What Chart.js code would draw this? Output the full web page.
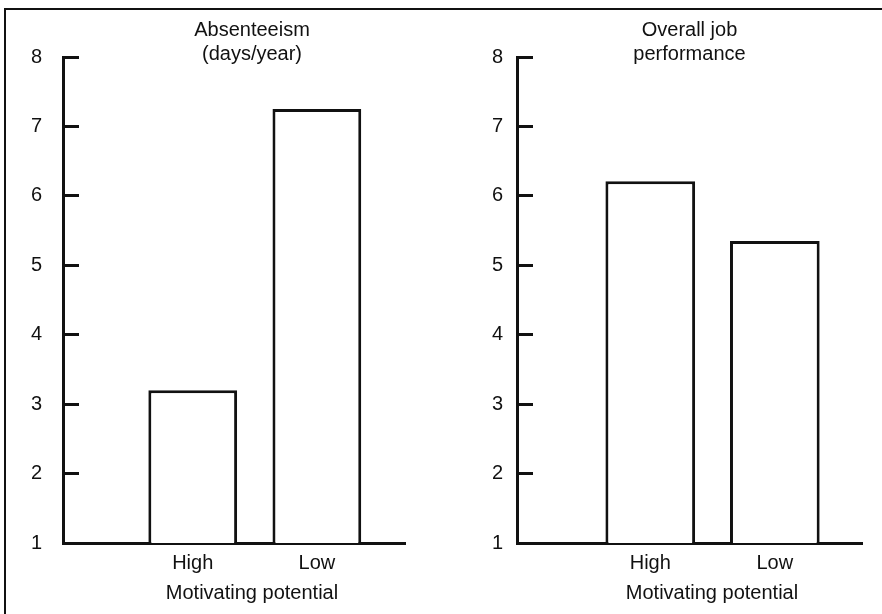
<!DOCTYPE html>
<html><head><meta charset="utf-8">
<script src="https://cdn.jsdelivr.net/npm/chart.js@4"></script>
<style>
html,body{margin:0;padding:0;background:#fff;overflow:hidden;width:882px;height:614px;}
#frame{position:absolute;left:4px;top:8px;width:900px;height:700px;border-top:2px solid #111;border-left:2px solid #111;}
#c1{position:absolute;left:10px;top:0;width:484px;height:614px;}
#c2{position:absolute;left:480px;top:0;width:464px;height:614px;}
</style></head><body>
<div id="frame"></div>
<canvas id="c1" width="484" height="614"></canvas>
<canvas id="c2" width="464" height="614"></canvas>
<script>
const categories = ['High', 'Low'];
const absenteeism = [3.2, 7.25];
const performance = [6.21, 5.35];
const yTicks = [1, 2, 3, 4, 5, 6, 7, 8];
const titleLeft = ['Absenteeism', '(days/year)'];
const titleRight = ['Overall job', 'performance'];
const xTitle = 'Motivating potential';

Chart.defaults.font.family = '"Liberation Sans", Arial, Helvetica, sans-serif';
const INK = '#111';
const F = {size: 20, weight: 'normal', lineHeight: 1.2};

function makeChart(id, values, titleLines, o) {
  const pts = categories.map((c, i) => ({x: i + 1, y: values[i]}));
  return new Chart(document.getElementById(id), {
    type: 'bar',
    data: {datasets: [{data: pts, backgroundColor: '#fff', borderColor: INK, borderWidth: 3,
      barPercentage: o.bar, categoryPercentage: 1}]},
    options: {
      responsive: false, animation: false,
      layout: {padding: 0},
      plugins: {
        legend: {display: false}, tooltip: {enabled: false},
        title: {display: true, text: titleLines, color: INK, font: F,
          padding: {top: 18, bottom: -9}, fullSize: o.titleFull},
        subtitle: {display: true, position: 'bottom', text: xTitle, color: INK, font: F,
          padding: {top: 7, bottom: 9}}
      },
      scales: {
        x: {type: 'linear', offset: false, min: o.xmin, max: o.xmax,
          grid: {drawOnChartArea: false, drawTicks: false, offset: false},
          border: {color: INK, width: 3},
          afterBuildTicks: s => { s.ticks = categories.map((c, i) => ({value: i + 1})); },
          afterFit: s => { s.height = 31; },
          ticks: {callback: v => categories[v - 1] ?? '', color: INK, font: F, padding: 8,
            maxRotation: 0, autoSkip: false}},
        y: {min: 1, max: 8,
          afterBuildTicks: s => { s.ticks = yTicks.map(v => ({value: v})); },
          grid: {drawOnChartArea: false, drawTicks: true, tickLength: -16, color: INK, lineWidth: 3},
          border: {color: INK, width: 3},
          ticks: {padding: o.yPad, color: INK, font: F},
          afterFit: s => { s.width = o.yWidth; }},
        spacer: {position: 'right', display: true,
          grid: {display: false, drawTicks: false}, border: {display: false},
          ticks: {display: false},
          afterFit: s => { s.width = o.padRight; }}
      }
    }
  });
}

makeChart('c1', absenteeism, titleLeft,
  {xmin: -0.045, xmax: 2.71, bar: 0.715, padRight: 89, yWidth: 53, yPad: 37, titleFull: true});
makeChart('c2', performance, titleRight,
  {xmin: -0.07, xmax: 2.70, bar: 0.72, padRight: 82, yWidth: 37, yPad: 30, titleFull: false});
</script>
</body></html>
